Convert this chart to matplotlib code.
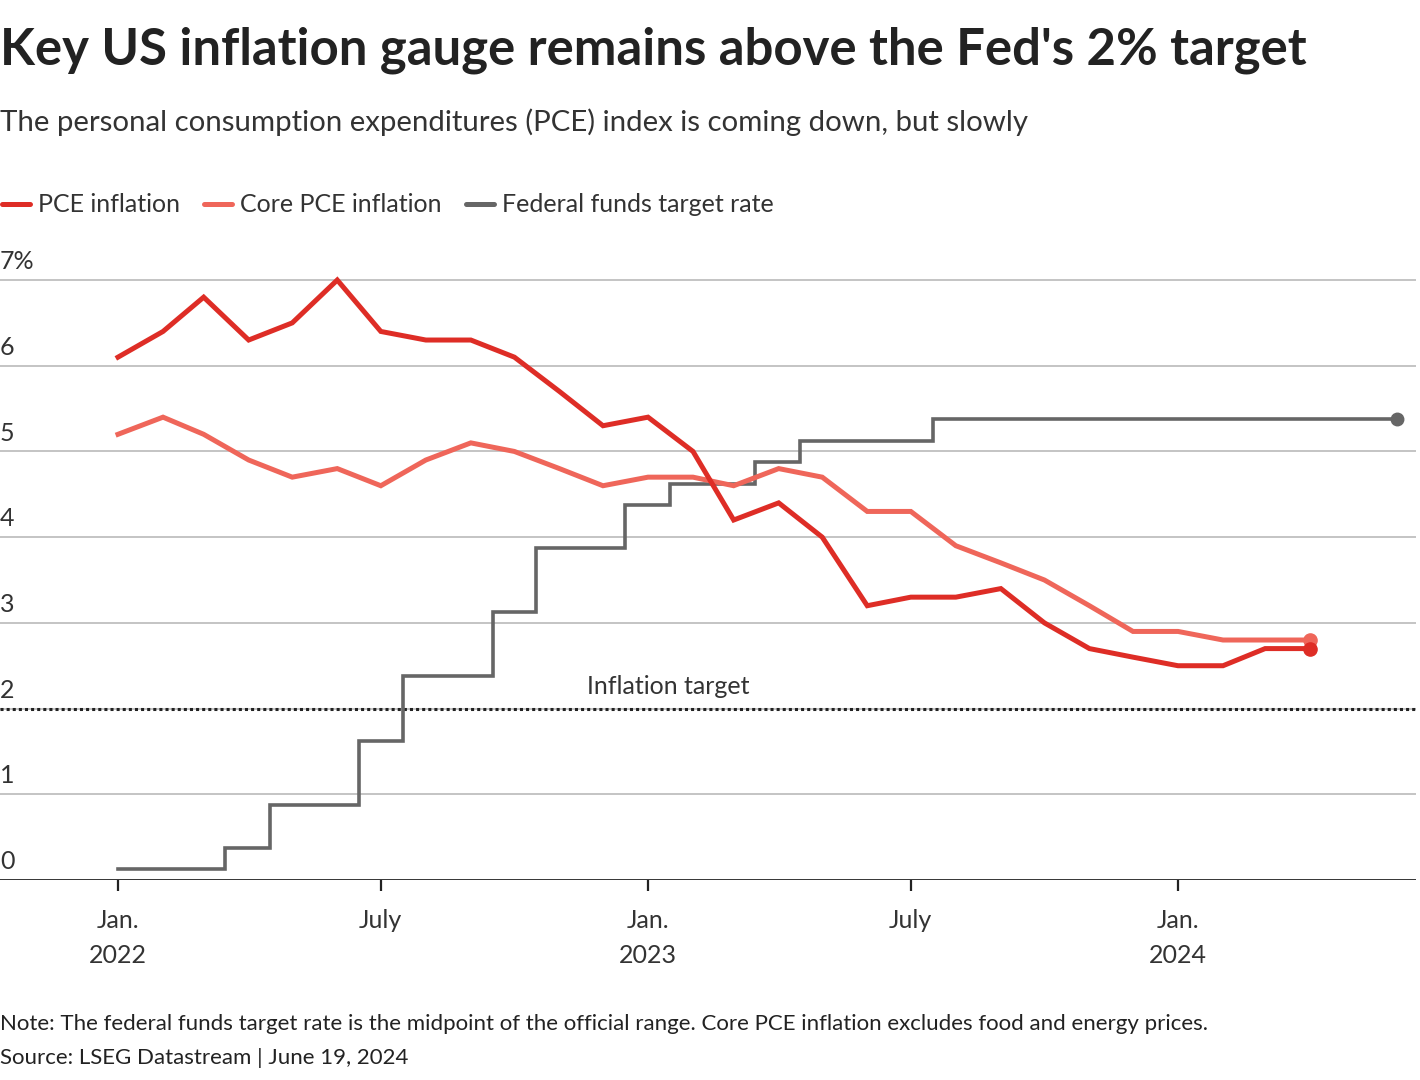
import matplotlib
matplotlib.use("Agg")
import matplotlib.pyplot as plt
import matplotlib.dates as mdates
from matplotlib.lines import Line2D
from datetime import date

plt.rcParams['font.family'] = ['Lato', 'DejaVu Sans']

# monthly data, Jan 2022 - Apr 2024
months = [date(2022 + (m // 12), m % 12 + 1, 1) for m in range(28)]
pce = [6.1, 6.4, 6.8, 6.3, 6.5, 7.0, 6.4, 6.3, 6.3, 6.1, 5.7, 5.3,
       5.4, 5.0, 4.2, 4.4, 4.0, 3.2, 3.3, 3.3, 3.4, 3.0, 2.7, 2.6,
       2.5, 2.5, 2.7, 2.7]
core_pce = [5.2, 5.4, 5.2, 4.9, 4.7, 4.8, 4.6, 4.9, 5.1, 5.0, 4.8, 4.6,
            4.7, 4.7, 4.6, 4.8, 4.7, 4.3, 4.3, 3.9, 3.7, 3.5, 3.2, 2.9,
            2.9, 2.8, 2.8, 2.8]

# federal funds target rate (midpoint), as the steps appear on the chart
fed_dates = [date(2022, 1, 1), date(2022, 3, 16), date(2022, 4, 16), date(2022, 6, 16),
             date(2022, 7, 16), date(2022, 9, 16), date(2022, 10, 16), date(2022, 12, 16),
             date(2023, 1, 16), date(2023, 3, 16), date(2023, 4, 16), date(2023, 7, 16),
             date(2024, 5, 31)]
fed_rate = [0.125, 0.375, 0.875, 1.625, 2.375, 3.125, 3.875, 4.375,
            4.625, 4.875, 5.125, 5.375, 5.375]

target = 2.0
y_ticks = [0, 1, 2, 3, 4, 5, 6, 7]
x_ticks = [date(2022, 1, 1), date(2022, 7, 1), date(2023, 1, 1),
           date(2023, 7, 1), date(2024, 1, 1)]
x_labels = ['Jan.\n2022', 'July', 'Jan.\n2023', 'July', 'Jan.\n2024']

RED = '#de2d26'
CORE = '#ef665a'
GRAY = '#666666'
TXT = '#222222'

W, H = 1420, 1080
fig = plt.figure(figsize=(W / 100, H / 100), dpi=100)

y_top = 7.25
ax = fig.add_axes([0, (H - 880) / H, 1416 / W, y_top * 85.71 / H])

d0 = mdates.date2num(date(2022, 1, 1))
ppd = 530 / 365.0
ax.set_xlim(d0 - 118 / ppd, d0 + (1416 - 118) / ppd)
ax.set_ylim(0, y_top)

for s in ax.spines.values():
    s.set_visible(False)
ax.set_yticks([])

for v in y_ticks:
    if v > 0:
        ax.axhline(v, color='#c4c4c4', lw=1.4, zorder=1)
    ax.text(0.0, v + 0.08, f'{v}%' if v == 7 else str(v), transform=ax.get_yaxis_transform(),
            ha='left', va='bottom', fontsize=18, color='#333333')
ax.axhline(0, color='#222222', lw=2.0, zorder=3)

ax.axhline(target, color='#222222', lw=2.2, ls=(0, (1, 1)), zorder=2)
ax.text(mdates.date2num(date(2023, 1, 15)), target + 0.12, 'Inflation target',
        ha='center', va='bottom', fontsize=18, color='#333333')

ax.step(fed_dates, fed_rate, where='post', color=GRAY, lw=2.6, zorder=4,
        solid_joinstyle='miter')
ax.plot([fed_dates[-1]], [fed_rate[-1]], 'o', color=GRAY, ms=9, zorder=5)

ax.plot(months, core_pce, color=CORE, lw=3.6, zorder=5, solid_joinstyle='miter')
ax.plot([months[-1]], [core_pce[-1]], 'o', color=CORE, ms=9.5, zorder=6)
ax.plot(months, pce, color=RED, lw=3.6, zorder=6, solid_joinstyle='miter')
ax.plot([months[-1]], [pce[-1]], 'o', color=RED, ms=9.5, zorder=7)

ax.set_xticks(x_ticks)
ax.set_xticklabels(x_labels, fontsize=18, color='#333333', linespacing=1.6)
ax.tick_params(axis='x', length=8, width=1.6, color='#222222', pad=13)

# header
fig.text(0, 1 - 50 / H, "Key US inflation gauge remains above the Fed's 2% target",
         fontsize=36.6, fontweight='bold', color=TXT, va='center', ha='left')
fig.text(0, 1 - 122 / H, 'The personal consumption expenditures (PCE) index is coming down, but slowly',
         fontsize=21.2, color='#333333', va='center', ha='left')

# legend
leg_y = 1 - 204 / H
items = [(RED, 'PCE inflation', 2), (CORE, 'Core PCE inflation', 204), (GRAY, 'Federal funds target rate', 466)]
for col, lab, x0 in items:
    fig.add_artist(Line2D([x0 / W, (x0 + 28) / W], [leg_y, leg_y], transform=fig.transFigure,
                          color=col, lw=3.6, solid_capstyle='round'))
    fig.text((x0 + 36) / W, leg_y, lab, fontsize=18, color='#333333',
             va='center', ha='left')

fig.text(0, 1 - 1024 / H,
         'Note: The federal funds target rate is the midpoint of the official range. '
         'Core PCE inflation excludes food and energy prices.',
         fontsize=16, color=TXT, va='center', ha='left')
fig.text(0, 1 - 1058 / H, 'Source: LSEG Datastream | June 19, 2024',
         fontsize=16, color=TXT, va='center', ha='left')

fig.savefig('out.png', dpi=100)
